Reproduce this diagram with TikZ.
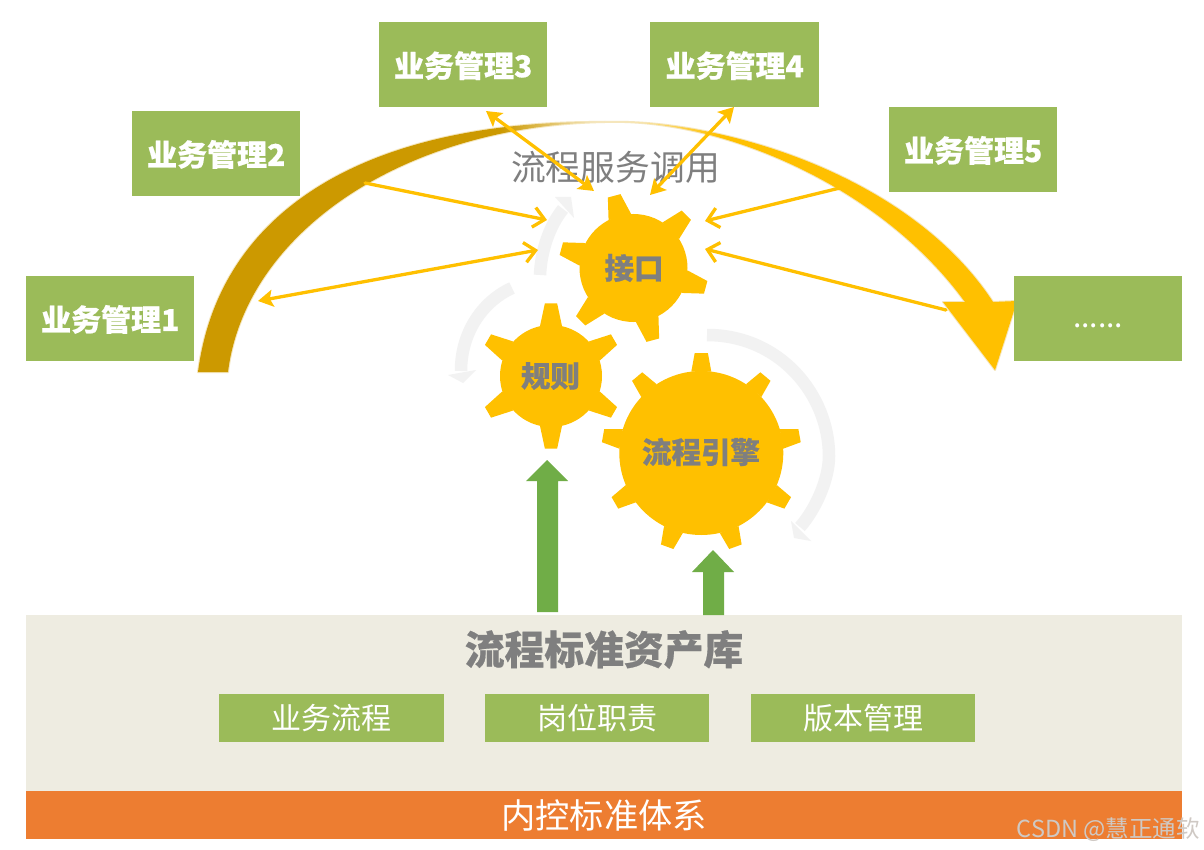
\documentclass[tikz,border=0pt]{standalone}
\usepackage{fontspec}
\setmainfont[BoldFeatures={FakeBold=0.5}]{Noto Sans CJK SC}
\usetikzlibrary{arrows.meta}
\definecolor{boxgreen}{HTML}{9BBB59}
\definecolor{arrowgreen}{HTML}{70AD47}
\definecolor{gold}{HTML}{FFC000}
\definecolor{darkgold}{HTML}{CC9900}
\definecolor{palegold}{HTML}{F5E6BC}
\definecolor{softgray}{HTML}{F2F2F2}
\definecolor{textgray}{HTML}{7F7F7F}
\definecolor{beige}{HTML}{EEECE1}
\definecolor{bandorange}{HTML}{ED7D31}
\definecolor{markgray}{HTML}{CFC9C4}
\newcommand{\fsz}[1]{\fontsize{#1}{#1}\selectfont}
\newcommand{\mgrtext}[1]{\raisebox{-12.5pt}[0pt][0pt]{#1}}
% centre x, centre y, body radius, tip radius, base half-angle, tip half-angle, tooth angles
\newcommand{\drawgear}[7]{%
  \begin{scope}[shift={(#1,#2)}]
    \fill[gold] (0,0) circle (#3);
    \foreach \a in {#7}{%
      \fill[gold] ({-\a-#5}:#3) -- ({-\a-#6}:#4) -- ({-\a+#6}:#4) -- ({-\a+#5}:#3) -- cycle;
    }
  \end{scope}}
\newcommand{\leftlimb}{(198,372) .. controls (220,205) and (374,120) .. (605,122) .. controls (400,126) and (245,235) .. (228,372) -- cycle}
\newcommand{\rightlimb}{(605,122) .. controls (715,118) and (908,172) .. (993,302) -- (1017,301) -- (995,370) -- (943,302) -- (965,302) .. controls (880,185) and (720,118) .. (605,122) -- cycle}
\tikzset{
  mgrbox/.style={fill=boxgreen,text=white,font=\fsz{30}\bfseries,minimum width=168pt,minimum height=84.5pt,inner sep=0pt,anchor=north west},
  subbox/.style={fill=boxgreen,text=white,font=\fsz{30},minimum width=224pt,minimum height=48pt,inner sep=0pt,anchor=north west},
  geartext/.style={text=textgray,font=\fsz{29.5}\bfseries,inner sep=0pt},
  link/.style={draw=gold,line width=3.3pt,line cap=round},
  openhead/.style={-{Straight Barb[length=11pt,width=20pt,line width=3.3pt]}},
  filledboth/.style={{Stealth[length=15pt,width=17pt,inset=3pt]}-{Stealth[length=15pt,width=17pt,inset=3pt]}},
  filledopen/.style={{Stealth[length=15pt,width=17pt,inset=3pt]}-{Straight Barb[length=11pt,width=20pt,line width=3.3pt]}},
  spin/.style={draw=softgray,line width=12.5pt},
  spinhead/.style={fill=softgray},
  greenarrow/.style={fill=arrowgreen},
}
\begin{document}
\begin{tikzpicture}[x=1pt,y=-1pt]
\useasboundingbox (0,0) rectangle (1204,850);
\fill[white] (0,0) rectangle (1204,850);

% Standards base
\node[fill=beige,minimum width=1156pt,minimum height=176pt,inner sep=0pt,anchor=north west] (lib) at (26,615) {};
\node[fill=bandorange,text=white,font=\fsz{34.3},minimum width=1156pt,minimum height=48pt,inner sep=0pt,anchor=north west] (ctrl) at (26,791) {内控标准体系};
\node[text=textgray,font=\fsz{39.8}\bfseries,inner sep=0pt] (libtitle) at (604,649.5) {流程标准资产库};
\node[subbox,minimum width=225pt] (sub1) at (219,694) {业务流程};
\node[subbox] (sub2) at (485,694) {岗位职责};
\node[subbox] (sub3) at (751,694) {版本管理};

% Green arrows
\fill[greenarrow] (537,612) -- (537,481) -- (526,481) -- (547,460) -- (568,481) -- (558,481) -- (558,612) -- cycle;
\fill[greenarrow] (703,615) -- (703,572) -- (692,572) -- (713,550) -- (734,572) -- (724,572) -- (724,615) -- cycle;

% Rotation marks
\draw[spin] (540,275) .. controls (541,250) and (550,225) .. (563,209);
\fill[spinhead] (555,197) -- (571,197) -- (574,218) -- cycle;
\draw[spin] (512,288) .. controls (485,300) and (461,330) .. (461,371);
\fill[spinhead] (448,375) -- (476,370) -- (463,383) -- cycle;
\draw[spin] (707,335) .. controls (780,335) and (829,395) .. (829,456) .. controls (829,480) and (815,510) .. (800,527);
\fill[spinhead] (791,521) -- (811,541) -- (794,538) -- cycle;

% Sweep arch, left limb
\draw[palegold,line width=2pt,line join=round] \leftlimb;
\begin{scope}
  \clip \leftlimb;
  \fill[darkgold] (190,100) rectangle (500,380);
  \shade[left color=darkgold,right color=palegold!50] (500,100) rectangle (610,160);
\end{scope}
% Sweep arch, right limb
\draw[palegold,line width=2pt,line join=round] \rightlimb;
\begin{scope}
  \clip \rightlimb;
  \fill[gold] (720,100) rectangle (1030,380);
  \shade[left color=palegold!50,right color=gold] (600,100) rectangle (720,160);
\end{scope}

% Gears
\drawgear{551}{376}{51}{73}{12.5}{4.8}{30,90,150,210,270,330}
\drawgear{701.3}{453}{82}{100}{7}{3.8}{90,50,10,-30,-70,-110,-150,170,130}
\drawgear{633.5}{268}{54}{75}{12.5}{5}{-15,45,105,165,225,285}
\node[geartext] (g1) at (550.5,376) {规则};
\node[geartext] (g2) at (701,452) {流程引擎};
\node[geartext] (g3) at (634,268) {接口};

% Service call caption
\node[text=textgray,font=\fsz{34.8},inner sep=0pt] (call) at (615.5,167) {流程服务调用};

% Business boxes
\node[mgrbox] (m1) at (26,276) {\mgrtext{业务管理1}};
\node[mgrbox] (m2) at (132,111) {\mgrtext{业务管理2}};
\node[mgrbox,minimum height=85pt] (m3) at (379,22) {\mgrtext{业务管理3}};
\node[mgrbox,minimum height=85pt,minimum width=169pt] (m4) at (650,22) {\mgrtext{业务管理4}};
\node[mgrbox] (m5) at (889,107) {\mgrtext{业务管理5}};
\node[mgrbox,font=\fsz{30}] (m6) at (1014,276) {\raisebox{-9pt}[0pt][0pt]{......}};

% Call links
\coordinate (a1) at (258,301);   \coordinate (b1) at (538,250);
\coordinate (a2) at (365,183);   \coordinate (b2) at (547,220);
\coordinate (a3) at (486,111);   \coordinate (b3) at (594,191);
\coordinate (a4) at (734,107);   \coordinate (b4) at (650,195);
\coordinate (a5) at (848,186);   \coordinate (b5) at (705,221);
\coordinate (a6) at (946,310);   \coordinate (b6) at (705,249);
\draw[link,filledopen] (a1) -- (b1);
\draw[link,openhead] (a2) -- (b2);
\draw[link,filledboth] (a3) -- (b3);
\draw[link,filledboth] (a4) -- (b4);
\draw[link,openhead] (a5) -- (b5);
\draw[link,openhead] (a6) -- (b6);

% Watermark
\node[text=markgray,font=\fsz{23.5},inner sep=0pt,anchor=east] (mark) at (1200,830) {CSDN @慧正通软};
\end{tikzpicture}
\end{document}
